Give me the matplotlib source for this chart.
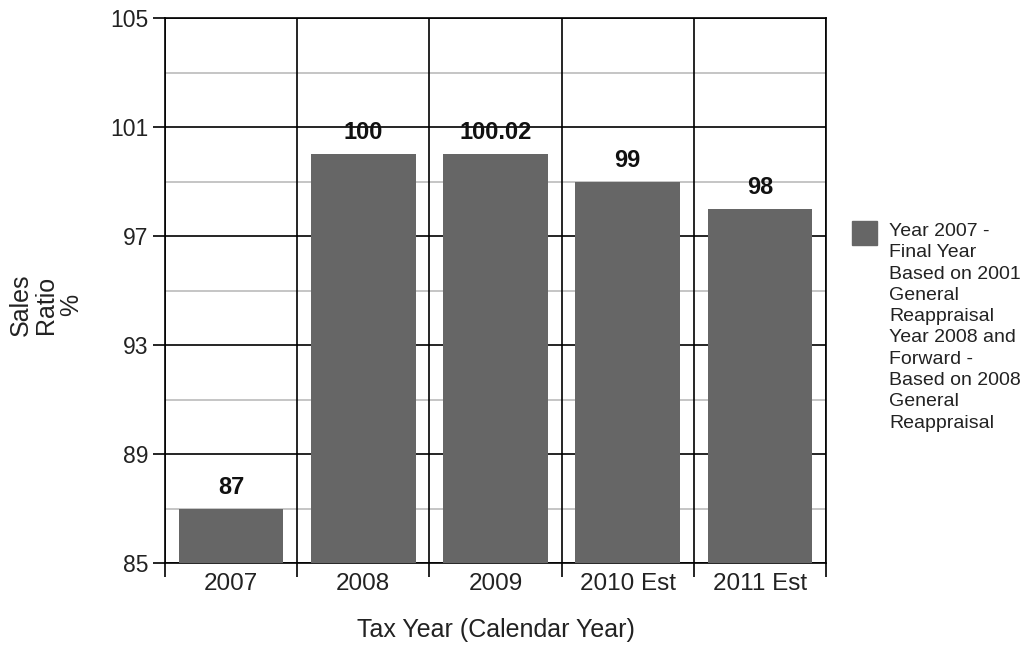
import matplotlib
matplotlib.use("Agg")
import matplotlib.pyplot as plt
import numpy as np

plt.rcParams['font.family'] = ['Liberation Sans', 'DejaVu Sans']

categories = ["2007", "2008", "2009", "2010 Est", "2011 Est"]
values = [87, 100, 100.02, 99, 98]
value_labels = ["87", "100", "100.02", "99", "98"]
major_ticks = [85, 89, 93, 97, 101, 105]
minor_ticks = [87, 91, 95, 99, 103]
legend_text = ("Year 2007 -\nFinal Year\nBased on 2001\nGeneral\nReappraisal\n"
               "Year 2008 and\nForward -\nBased on 2008\nGeneral\nReappraisal")

fig = plt.figure(figsize=(10.26, 6.45), dpi=100)
ax = fig.add_axes([165/1026, 1-563/645, (826-165)/1026, (563-18)/645])

x = np.arange(len(categories))
ax.set_xlim(-0.5, len(categories)-0.5)
ax.set_ylim(85, 105)

# gridlines
for m in minor_ticks:
    ax.axhline(m, color='#bbbbbb', lw=1.2, zorder=1)
for m in major_ticks:
    ax.axhline(m, color='black', lw=1.2, zorder=1)
for b in np.arange(len(categories)+1) - 0.5:
    ax.axvline(b, color='black', lw=1.2, zorder=4)

ax.bar(x, [v-85 for v in values], bottom=85, width=0.79, color='#666666', zorder=3)
for xi, v, lab in zip(x, values, value_labels):
    ax.text(xi, v + 0.55, lab, ha='center', va='baseline', fontsize=17,
            fontweight='bold', color='#111111', zorder=5)

ax.set_yticks(major_ticks)
ax.set_yticklabels([str(t) for t in major_ticks], fontsize=16.5, color='#222222')
ax.set_xticks(np.arange(len(categories)+1) - 0.5)
ax.set_xticklabels([])
ax.set_xticks(x, minor=True)
ax.set_xticklabels(categories, minor=True, fontsize=17.5, color='#222222')
ax.tick_params(axis='x', which='minor', length=0, pad=7)
ax.tick_params(axis='x', which='major', length=10, width=1.2, color='black')
ax.tick_params(axis='y', length=9, width=1.2, color='black', pad=3)
for s in ax.spines.values():
    s.set_color('black')
    s.set_linewidth(1.2)

ax.set_xlabel("Tax Year (Calendar Year)", fontsize=18, color='#222222', labelpad=17)
fig.text(46/1026, 1-305/645, "Sales\nRatio\n%", ha='center', va='center',
         rotation=90, fontsize=18, color='#222222', linespacing=1.05)

# legend
fig.patches.append(plt.Rectangle((852/1026, 1-245/645), 25/1026, 24/645,
                                 transform=fig.transFigure, color='#666666'))
fig.text(889/1026, 1-223/645, legend_text, ha='left', va='top', fontsize=14,
         color='#222222', linespacing=1.33)

fig.savefig("out.png", dpi=100)
